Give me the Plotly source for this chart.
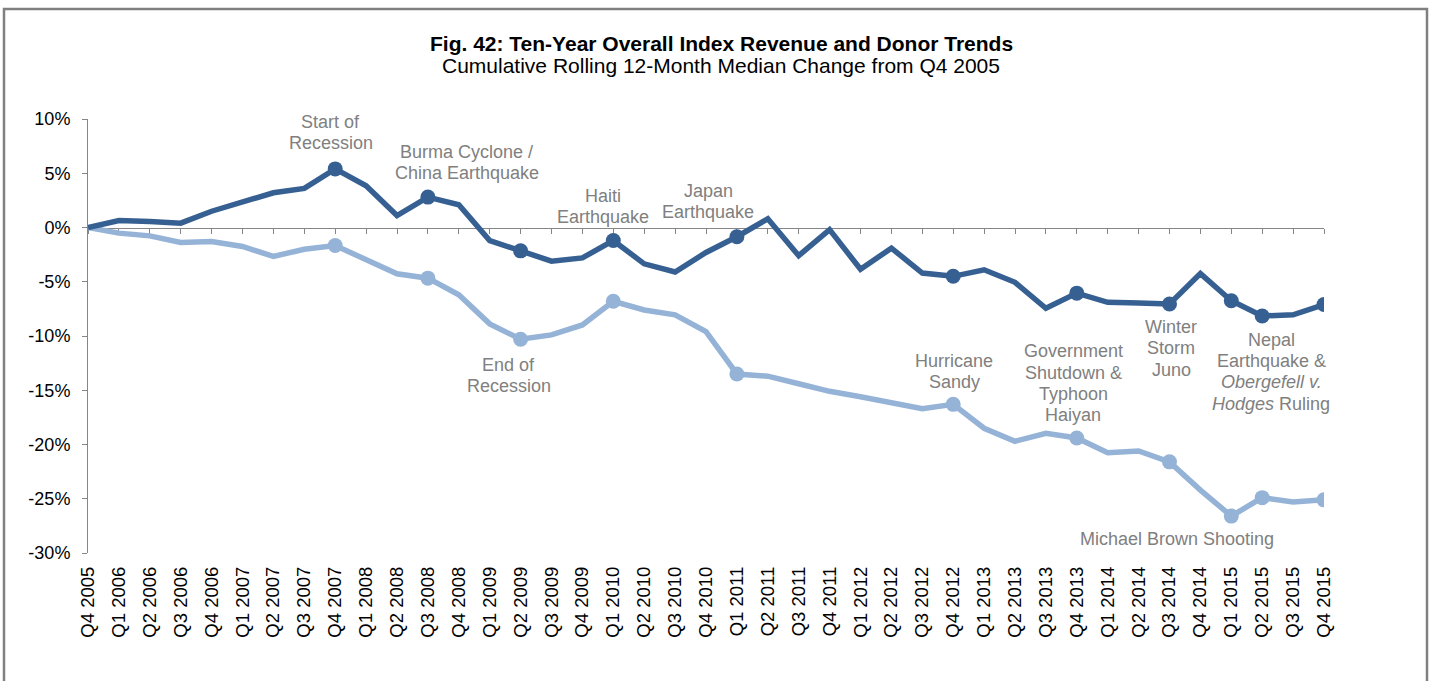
import plotly.graph_objects as go

quarters = ["Q4 2005", "Q1 2006", "Q2 2006", "Q3 2006", "Q4 2006",
            "Q1 2007", "Q2 2007", "Q3 2007", "Q4 2007",
            "Q1 2008", "Q2 2008", "Q3 2008", "Q4 2008",
            "Q1 2009", "Q2 2009", "Q3 2009", "Q4 2009",
            "Q1 2010", "Q2 2010", "Q3 2010", "Q4 2010",
            "Q1 2011", "Q2 2011", "Q3 2011", "Q4 2011",
            "Q1 2012", "Q2 2012", "Q3 2012", "Q4 2012",
            "Q1 2013", "Q2 2013", "Q3 2013", "Q4 2013",
            "Q1 2014", "Q2 2014", "Q3 2014", "Q4 2014",
            "Q1 2015", "Q2 2015", "Q3 2015", "Q4 2015"]

revenue = [0.0, 0.65, 0.55, 0.4, 1.5, 2.4, 3.2, 3.6, 5.4, 3.85, 1.1, 2.8, 2.1,
           -1.2, -2.15, -3.1, -2.8, -1.2, -3.35, -4.1, -2.3, -0.85, 0.8, -2.6,
           -0.2, -3.85, -1.9, -4.2, -4.5, -3.9, -5.05, -7.45, -6.05, -6.9, -6.95,
           -7.05, -4.25, -6.75, -8.15, -8.05, -7.1]

donors = [0.0, -0.52, -0.77, -1.38, -1.29, -1.75, -2.67, -2.0, -1.66, -2.98,
          -4.27, -4.67, -6.2, -8.88, -10.3, -9.9, -8.98, -6.8, -7.6, -8.05, -9.6,
          -13.5, -13.7, -14.4, -15.1, -15.6, -16.1, -16.7, -16.3, -18.5, -19.7,
          -18.97, -19.4, -20.75, -20.6, -21.6, -24.2, -26.6, -24.9, -25.3, -25.1]

event_quarters = ["Q4 2007", "Q3 2008", "Q2 2009", "Q1 2010", "Q1 2011", "Q4 2012",
                  "Q4 2013", "Q3 2014", "Q1 2015", "Q2 2015", "Q4 2015"]

y_tickvals = [10, 5, 0, -5, -10, -15, -20, -25, -30]
y_ticktext = ["10%", "5%", "0%", "-5%", "-10%", "-15%", "-20%", "-25%", "-30%"]

DARK = "#376092"
LIGHT = "#95B3D7"
GRAY_TXT = "#808080"
AXIS = "#868686"
FONT = "Arial, 'Liberation Sans', sans-serif"

x = list(range(len(quarters)))
ev_x = [quarters.index(q) for q in event_quarters]

fig = go.Figure()
fig.add_trace(go.Scatter(
    x=x, y=donors, mode="lines", name="Index Donors",
    line=dict(color=LIGHT, width=5.5),
    xaxis="x", yaxis="y", hoverinfo="skip", showlegend=False))
fig.add_trace(go.Scatter(
    x=ev_x, y=[donors[i] for i in ev_x], mode="markers",
    marker=dict(size=15, color=LIGHT, opacity=1, line=dict(width=0)),
    xaxis="x", yaxis="y", hoverinfo="skip", showlegend=False))
fig.add_trace(go.Scatter(
    x=x, y=revenue, mode="lines", name="Index Revenue",
    line=dict(color=DARK, width=5.5),
    xaxis="x2", yaxis="y", hoverinfo="skip", showlegend=False))
fig.add_trace(go.Scatter(
    x=ev_x, y=[revenue[i] for i in ev_x], mode="markers",
    marker=dict(size=15, color=DARK, opacity=1, line=dict(width=0)),
    xaxis="x2", yaxis="y", hoverinfo="skip", showlegend=False))

L, R, T, B = 88, 111, 119, 128
W, H = 1435, 681
plot_h = H - T - B
plot_w = W - L - R

fig.update_layout(
    width=W, height=H, autosize=False,
    margin=dict(l=L, r=R, t=T, b=B, pad=0),
    paper_bgcolor="white", plot_bgcolor="white",
    font=dict(family=FONT, size=18, color="black"),
    xaxis=dict(
        range=[0, 40], tickmode="array", tickvals=x, ticktext=quarters,
        tickangle=-90, ticks="", showline=False, showgrid=False, zeroline=False,
        tickfont=dict(size=18.5, color="black", family=FONT),
        ticklabelstandoff=9, fixedrange=True),
    xaxis2=dict(
        range=[0, 40], overlaying="x", anchor="free",
        position=(0 - (-30)) / 40.0,
        tickmode="array", tickvals=x, showticklabels=False,
        ticks="outside", ticklen=5, tickwidth=1, tickcolor=AXIS,
        showline=True, linecolor=AXIS, linewidth=1,
        showgrid=False, zeroline=False, layer="below traces", fixedrange=True),
    yaxis=dict(
        range=[-30, 10], tickmode="array", tickvals=y_tickvals, ticktext=y_ticktext,
        ticks="outside", ticklen=5, tickwidth=1, tickcolor=AXIS,
        showline=True, linecolor=AXIS, linewidth=1,
        showgrid=False, zeroline=False,
        tickfont=dict(size=18, color="black", family=FONT),
        ticklabelstandoff=8, fixedrange=True),
)

def add_label(lines, xc, yc, color=GRAY_TXT, size=18, spacing=21.3):
    n = len(lines)
    for i, t in enumerate(lines):
        fig.add_annotation(
            x=xc, y=yc, xref="x", yref="y", text=t, showarrow=False,
            xanchor="center", yanchor="middle",
            yshift=((n - 1) / 2.0 - i) * spacing,
            font=dict(family=FONT, size=size, color=color))

add_label(["Start of", "Recession"], 7.86, 8.77)
add_label(["Burma Cyclone /", "China Earthquake"], 12.25, 5.96)
add_label(["Haiti", "Earthquake"], 16.68, 1.91)
add_label(["Japan", "Earthquake"], 20.08, 2.41)
add_label(["End of", "Recession"], 13.61, -13.62)
add_label(["Hurricane", "Sandy"], 28.04, -13.25)
add_label(["Government", "Shutdown &amp;", "Typhoon", "Haiyan"], 31.89, -14.36)
add_label(["Winter", "Storm", "Juno"], 35.05, -11.13)
add_label(["Nepal", "Earthquake &amp;", "<i>Obergefell v.</i>", "<i>Hodges</i> Ruling"], 38.30, -13.30)
add_label(["Michael Brown Shooting"], 35.23, -28.69)
add_label(["Index Revenue", "%.1f%%" % revenue[-1]], 40.88, -4.22, color="black")
add_label(["Index Donors", "%.1f%%" % donors[-1]], 41.33, -22.61, color="black")

def px_to_paper_x(px):
    return (px - L) / plot_w

def px_to_paper_y(py):
    return (H - B - py) / plot_h

fig.add_annotation(
    x=px_to_paper_x(721), y=px_to_paper_y(43), xref="paper", yref="paper",
    text="<b>Fig. 42: Ten-Year Overall Index Revenue and Donor Trends</b>",
    showarrow=False, xanchor="center", yanchor="middle",
    font=dict(family=FONT, size=21, color="black"))
fig.add_annotation(
    x=px_to_paper_x(721), y=px_to_paper_y(66), xref="paper", yref="paper",
    text="Cumulative Rolling 12-Month Median Change from Q4 2005",
    showarrow=False, xanchor="center", yanchor="middle",
    font=dict(family=FONT, size=21, color="black"))

# chart frame
fig.add_shape(type="rect", xref="paper", yref="paper",
              x0=px_to_paper_x(4), x1=px_to_paper_x(1427),
              y0=px_to_paper_y(730), y1=px_to_paper_y(9),
              line=dict(color="#808080", width=2.5), fillcolor="rgba(0,0,0,0)",
              layer="above")

fig.write_html(
    "out.html",
    config={"displayModeBar": False, "staticPlot": True},
    post_script="document.body.style.margin='0';document.body.style.overflow='hidden';")
